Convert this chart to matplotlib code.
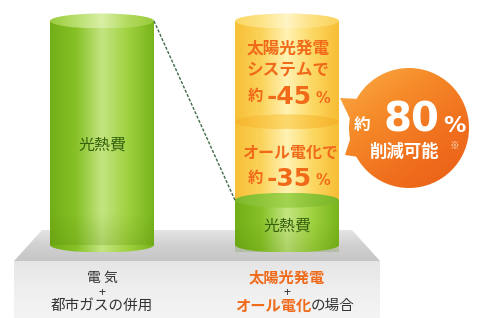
# 光熱費比較のイラスト風グラフ
import numpy as np
import matplotlib.pyplot as plt
from matplotlib.patches import Ellipse, Polygon, Rectangle
from matplotlib.colors import LinearSegmentedColormap

plt.rcParams['font.family'] = ['Noto Sans CJK JP', 'DejaVu Sans']

# data
categories = ['電気+都市ガスの併用', '太陽光発電+オール電化の場合']
before_cost = 100                 # 電気+都市ガス = 100%
after_parts = [20, 35, 45]        # 残りの光熱費, オール電化で削減, 太陽光発電で削減
total_cut = 80

# layout (pixel-ish x, y in % with helper for text rows)
W, H = 479, 318
BASE_PX, PX = 245, 2.24           # baseline row and px per 1%
def u(p):
    return (BASE_PX - p) / PX

EH = 7.5 / PX                     # half height of cylinder ellipses
xl, xr = 102, 287                 # cylinder centres
bw = 104

fig = plt.figure(figsize=(W / 100, H / 100), dpi=100)
ax = fig.add_axes([0, 0, 1, 1])
ax.axis('off')

green = LinearSegmentedColormap.from_list('g', ['#72ae18', '#86c126', '#c4e581', '#9fd13f', '#78b51c'])
green_top = LinearSegmentedColormap.from_list('gt', ['#9bcc3c', '#b8de6c', '#d9efa6', '#b2da5e', '#9acb3a'])
green_top2 = LinearSegmentedColormap.from_list('gt2', ['#7db82a', '#8ec63a', '#a3d350', '#8ac236', '#7bb628'])
yellow = LinearSegmentedColormap.from_list('y', ['#f7bf36', '#fbd35a', '#fff2b4', '#fcd862', '#f7bd34'])
yellow_top = LinearSegmentedColormap.from_list('yt', ['#fcd660', '#fde488', '#fff4c4', '#fde080', '#fbd25a'])
yellow_mid = LinearSegmentedColormap.from_list('ym', ['#f6b52c', '#f9c646', '#fcd96e', '#f9c444', '#f5b22a'])
grad = np.linspace(0, 1, 256).reshape(1, -1)


def shade(clip, cmap, ext, z, img=grad):
    clip.set_facecolor('none')
    clip.set_edgecolor('none')
    ax.add_patch(clip)
    im = ax.imshow(img, extent=ext, cmap=cmap, aspect='auto', origin='lower',
                   zorder=z, interpolation='bilinear')
    im.set_clip_path(clip)


# platform
vg = np.linspace(0, 1, 128).reshape(-1, 1)
top_face = Polygon([(42, u(230)), (352, u(230)), (380, u(261)), (14, u(261))], closed=True)
shade(top_face, LinearSegmentedColormap.from_list('p', ['#c6c6c6', '#d0d0d0', '#e4e4e4']),
      (14, 380, u(261), u(230)), 1, vg)
front = Rectangle((14, u(318)), 366, u(261) - u(318))
shade(front, LinearSegmentedColormap.from_list('f', ['#f4f4f4', '#efefef', '#e5e5e5']),
      (14, 380, u(318), u(261)), 1, vg)

# left cylinder (before)
x0, x1 = xl - bw / 2, xl + bw / 2
bar = ax.bar(xl, before_cost, width=bw, bottom=0, color='none', zorder=2)[0]
shade(bar, green, (x0, x1, 0, before_cost), 3)
shade(Ellipse((xl, 0), bw, 2 * EH), green, (x0, x1, -EH, EH), 2.5)
dark = np.linspace(0.0, 1.0, 64).reshape(-1, 1)
ax.imshow(dark, extent=(x0, x1, -EH, 14), cmap=LinearSegmentedColormap.from_list(
    'd', [(0.3, 0.5, 0, 0.25), (0.3, 0.5, 0, 0.0)]), aspect='auto', origin='lower',
    zorder=3.2).set_clip_path(bar)
shade(Ellipse((xl, before_cost), bw, 2 * EH), green_top, (x0, x1, before_cost - EH, before_cost + EH), 4)
ax.text(xl, u(145), '光熱費', ha='center', va='center', fontsize=11.5, color='#36620e', zorder=6)

# right cylinder (after, stacked)
x0, x1 = xr - bw / 2, xr + bw / 2
bottoms = np.cumsum([0] + after_parts[:-1])
tops = np.cumsum(after_parts)
cmaps = [green, yellow, yellow]
for b, h, cm in zip(bottoms, after_parts, cmaps):
    seg = ax.bar(xr, h, width=bw, bottom=b, color='none', zorder=2)[0]
    shade(seg, cm, (x0, x1, b, b + h), 3)
shade(Ellipse((xr, 0), bw, 2 * EH), green, (x0, x1, -EH, EH), 2.5)
ax.imshow(dark, extent=(x0, x1, -EH, 10), cmap=LinearSegmentedColormap.from_list(
    'd2', [(0.3, 0.5, 0, 0.2), (0.3, 0.5, 0, 0.0)]), aspect='auto', origin='lower',
    zorder=3.2).set_clip_path(Rectangle((x0, -EH), bw, 10 + EH, transform=ax.transData))
for t, cm in zip(tops, [green_top2, yellow_mid, yellow_top]):
    shade(Ellipse((xr, t), bw, 2 * EH), cm, (x0, x1, t - EH, t + EH), 4)
ax.text(xr, u(226), '光熱費', ha='center', va='center', fontsize=11.5, color='#36620e', zorder=6)

# dashed guide line between the cylinders
ax.plot([xl + bw / 2, xr - bw / 2], [before_cost, after_parts[0]], color='#3f6b48',
        lw=1.0, ls=(0, (2.2, 1.2)), zorder=5)

# labels inside the right cylinder
orange = '#f06a1a'
ax.text(xr + 1, u(50), '太陽光発電', ha='center', va='center', fontsize=12, weight='bold', color=orange, zorder=6)
ax.text(xr + 1, u(70), 'システムで', ha='center', va='center', fontsize=12, weight='bold', color=orange, zorder=6)
ax.text(xr + 3, u(153), 'オール電化で', ha='center', va='center', fontsize=11.5, weight='bold', color=orange, zorder=6)
for yy, val in [(u(96), after_parts[2]), (u(178), after_parts[1])]:
    ax.text(xr - 32, yy, '約', ha='center', va='center', fontsize=11, weight='bold', color=orange, zorder=6)
    ax.text(xr + 2, yy - 0.4, f'-{val}', ha='center', va='center', fontsize=18, weight='bold',
            family='DejaVu Sans', color=orange, zorder=6)
    ax.text(xr + 36, yy - 1.0, '%', ha='center', va='center', fontsize=10.5, weight='bold',
            family='DejaVu Sans', color=orange, zorder=6)

# speech bubble
cx, cy, r = 409, u(128), 60
bub = Ellipse((cx, cy), 2 * r, 2 * r / PX)
tail = Polygon([(340, u(98)), (378, u(100)), (380, u(160)), (345, u(155)), (354, u(127))], closed=True)
bx, by = np.meshgrid(np.linspace(0, 1, 128), np.linspace(0, 1, 128))
bimg = np.clip(0.55 * (1 - by) + 0.45 * bx, 0, 1)
bcm = LinearSegmentedColormap.from_list('b', ['#fbb04a', '#f68c2a', '#f0701e', '#ea5e16'])
ext = (338, cx + r, cy - r / PX, cy + r / PX)
shade(tail, bcm, ext, 4, bimg)
shade(bub, bcm, ext, 4, bimg)
ax.text(362, u(125), '約', ha='center', va='center', fontsize=12, weight='bold', color='white', zorder=7)
ax.text(411, u(121), f'{total_cut}', ha='center', va='center', fontsize=29, weight='bold',
        family='DejaVu Sans', color='white', zorder=7)
ax.text(454, u(126), '%', ha='center', va='center', fontsize=16, weight='bold',
        family='DejaVu Sans', color='white', zorder=7)
ax.text(404, u(152), '削減可能', ha='center', va='center', fontsize=12.5, weight='bold', color='white', zorder=7)
ax.text(455, u(146), '※', ha='center', va='center', fontsize=7, color='#fde3c8', zorder=7)

# category labels on the platform front
c1a, c1b = categories[0].split('+')
c2a, c2b = categories[1].split('+')
dk = '#333333'
ax.text(xl, u(278), ' '.join(c1a), ha='center', va='center', fontsize=10, color=dk, zorder=6)
ax.text(xl, u(292.5), '+', ha='center', va='center', fontsize=9, color=dk, zorder=6)
ax.text(xl, u(306), c1b, ha='center', va='center', fontsize=10.5, color=dk, zorder=6)
ax.text(xr, u(277), c2a, ha='center', va='center', fontsize=11, weight='bold', color=orange, zorder=6)
ax.text(xr, u(292.5), '+', ha='center', va='center', fontsize=9, color=dk, zorder=6)
ax.text(xr + 24, u(306), c2b[:5], ha='right', va='center', fontsize=11, weight='bold', color=orange, zorder=6)
ax.text(xr + 24, u(306), c2b[5:], ha='left', va='center', fontsize=10.5, color=dk, zorder=6)

ax.set_xlim(0, W)
ax.set_ylim(u(H), u(0))
fig.savefig('out.png', dpi=100)
